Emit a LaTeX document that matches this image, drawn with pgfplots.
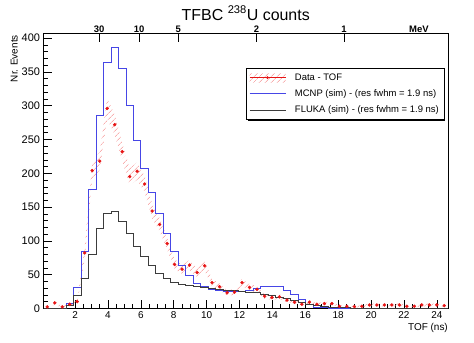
\documentclass[border=0pt]{standalone}
\usepackage{fontspec}
\setmainfont{Liberation Sans}
\usepackage{pgfplots}
\usepackage{pgfplotstable}
\pgfplotsset{compat=1.18}
\usepgfplotslibrary{fillbetween}
\usetikzlibrary{patterns.meta}

\definecolor{mblue}{RGB}{70,70,230}
\definecolor{mgray}{RGB}{60,60,60}
\definecolor{mred}{RGB}{230,20,20}
\definecolor{hatch}{RGB}{245,130,130}

\pgfplotstableread{
x y
0.080 0
0.536 0
0.991 0
1.447 7
1.902 31
2.358 84
2.814 176
3.269 285
3.725 364
4.180 387
4.636 356
5.092 300
5.547 249
6.003 207
6.458 171
6.914 141
7.370 111
7.825 85
8.281 64
8.736 49
9.192 37
9.648 32
10.103 28
10.559 26
11.014 25
11.470 25
11.926 25
12.381 27
12.837 29
13.292 32
13.748 33
14.204 32
14.659 26
15.115 20
15.570 13
16.026 6
16.482 2
16.937 1
17.393 0
17.848 0
18.304 0
18.760 0
19.215 0
19.671 0
20.126 0
20.582 0
21.038 0
21.493 0
21.949 0
22.404 0
22.860 0
23.316 0
23.771 0
24.227 0
24.682 0
}\mcnp

\pgfplotstableread{
x y
0.080 0
0.536 0
0.991 0
1.447 5
1.902 19
2.358 44
2.814 80
3.269 118
3.725 141
4.180 143
4.636 128
5.092 111
5.547 92
6.003 77
6.458 63
6.914 52
7.370 44
7.825 38.5
8.281 35.5
8.736 33.5
9.192 32
9.648 30.5
10.103 29
10.559 28
11.014 27
11.470 26
11.926 25
12.381 24
12.837 23
13.292 21
13.748 18.5
14.204 16
14.659 14
15.115 11
15.570 8
16.026 6
16.482 4
16.937 3
17.393 2
17.848 1.5
18.304 1
18.760 0.5
19.215 0.5
19.671 0.3
20.126 0.3
20.582 0.2
21.038 0.2
21.493 0.1
21.949 0.1
22.404 0.1
22.860 0.1
23.316 0.1
23.771 0.1
24.227 0.1
24.682 0.1
}\fluka

\pgfplotstableread{
x y e
0.308 2 1.3
0.764 8 2.5
1.219 2 1.3
1.675 6 2.2
2.130 10 2.8
2.586 82 8.1
3.042 204 12.9
3.497 218 13.3
3.953 296 15.5
4.408 272 14.8
4.864 232 13.7
5.320 195 12.6
5.775 203 12.8
6.231 184 12.2
6.686 144 10.8
7.142 124 10.0
7.598 96 8.8
8.053 65 7.3
8.509 58 6.9
8.964 64 7.2
9.420 53 6.6
9.876 63 7.1
10.331 38 5.5
10.787 32 5.1
11.242 23 4.3
11.698 24 4.4
12.154 38 5.5
12.609 31 5.0
13.065 28 4.8
13.520 18 3.8
13.976 16 3.6
14.432 17 3.7
14.887 12 3.1
15.343 9 2.7
15.798 6 2.2
16.254 9 2.7
16.710 6 2.2
17.165 7 2.4
17.621 7 2.4
18.076 3 1.6
18.532 3 1.6
18.988 2.5 1.4
19.443 3 1.6
19.899 5 2.0
20.354 5 2.0
20.810 5 2.0
21.266 5 2.0
21.721 5 2.0
22.177 3 1.6
22.632 3 1.6
23.088 5 2.0
23.544 5 2.0
23.999 5 2.0
24.455 4 1.8
}\datatof

\begin{document}
\begin{tikzpicture}
\begin{axis}[
  at={(43.5bp,34.7bp)}, anchor=south west,
  scale only axis, width=404.5bp, height=274.8bp,
  xmin=0.08, xmax=24.68, ymin=0, ymax=407,
  xtick={2,4,...,24}, minor x tick num=3,
  ytick={0,50,...,400}, minor y tick num=4,
  xtick pos=bottom, ytick pos=left,
  tick align=inside,
  major tick length=8bp, minor tick length=4bp,
  axis line style={black, line width=0.7pt},
  every tick/.style={black, line width=0.5pt},
  /pgf/number format/assume math mode=true,
  xticklabel style={font=\fontsize{10}{12}\selectfont},
  yticklabel style={font=\fontsize{11}{13}\selectfont},
  xlabel={TOF (ns)},
  xlabel style={at={(rel axis cs:1,0)}, anchor=north east, yshift=-15bp, inner sep=0pt, font=\fontsize{10}{12}\selectfont},
  ylabel={Nr. Events},
  ylabel style={at={(rel axis cs:-0.063,0.9945)}, anchor=south east, inner sep=0pt, font=\fontsize{10}{12}\selectfont},
  title={TFBC \textsuperscript{238}U counts},
  title style={at={(rel axis cs:0.5,1)}, anchor=base, yshift=7.5bp, font=\fontsize{16}{19}\selectfont},
  legend style={name=leg, at={(rel axis cs:0.5006,0.873)}, anchor=north west, draw=black, fill=white,
    font=\fontsize{9.5}{11}\selectfont, inner xsep=3bp, inner ysep=3bp, row sep=4bp,
    /tikz/every odd column/.append style={column sep=7bp}},
  legend cell align=left,
]
\addplot[name path=up, draw=none, forget plot] table[x=x, y expr=\thisrow{y}+\thisrow{e}]{\datatof};
\addplot[name path=lo, draw=none, forget plot] table[x=x, y expr=\thisrow{y}-\thisrow{e}]{\datatof};
\addplot[pattern={Lines[angle=45,distance=4pt,line width=0.6pt]}, pattern color=hatch, draw=none, forget plot] fill between[of=up and lo];
\addplot[const plot mark left, mblue, line width=0.8pt, forget plot] table[x=x,y=y]{\mcnp};
\addplot[const plot mark left, mgray, line width=0.8pt, forget plot] table[x=x,y=y]{\fluka};
\addplot[mred, only marks, mark=*, mark size=1.5pt, mark options={draw=mred, fill=mred}, forget plot]
  table[x=x, y=y]{\datatof};

\addlegendimage{legend image code/.code={
  \path[draw=none, fill=none, pattern={Lines[angle=45,distance=4pt,line width=0.6pt]}, pattern color=hatch] (0bp,-4.5bp) rectangle (36bp,4.5bp);
  \path[draw=mred, line width=0.8pt] (0bp,0bp) -- (36bp,0bp);
  \path[draw=none, fill=mred] (18bp,0bp) circle (1.5pt);}}
\addlegendentry{Data - TOF}
\addlegendimage{legend image code/.code={\path[draw=mblue, line width=0.8pt] (0bp,0bp) -- (36bp,0bp);}}
\addlegendentry{MCNP (sim) - (res fwhm = 1.9 ns)}
\addlegendimage{legend image code/.code={\path[draw=mgray, line width=0.8pt] (0bp,0bp) -- (36bp,0bp);}}
\addlegendentry{FLUKA (sim) - (res fwhm = 1.9 ns)}
\end{axis}
\draw[black, line width=1.4bp] ([xshift=2bp,yshift=-0.7bp]leg.south west) -- ([xshift=0.7bp,yshift=-0.7bp]leg.south east) -- ([xshift=0.7bp,yshift=-2bp]leg.north east);
\begin{axis}[
  at={(43.5bp,34.7bp)}, anchor=south west,
  scale only axis, width=404.5bp, height=274.8bp,
  xmin=0.08, xmax=24.68, ymin=0, ymax=1,
  axis x line*=top, axis y line=none, clip=false,
  xtick={3.47,5.9,8.27,13.03,18.36}, xticklabels={30,10,5,2,1},
  minor x tick num=0,
  tick align=inside, major tick length=9bp,
  axis line style={black, line width=0.7pt},
  every tick/.style={black, line width=0.5pt},
  xticklabel style={font=\bfseries\fontsize{9.5}{11}\selectfont, inner sep=0.5pt, anchor=south},
]
\addplot[draw=none, forget plot] coordinates {(1,0.5)};
\node[font=\bfseries\fontsize{9.5}{11}\selectfont, anchor=south, inner sep=0.5pt] at (rel axis cs:0.928,1) {MeV};
\end{axis}
\path (0,0) rectangle (474bp,343bp);
\end{tikzpicture}
\end{document}
